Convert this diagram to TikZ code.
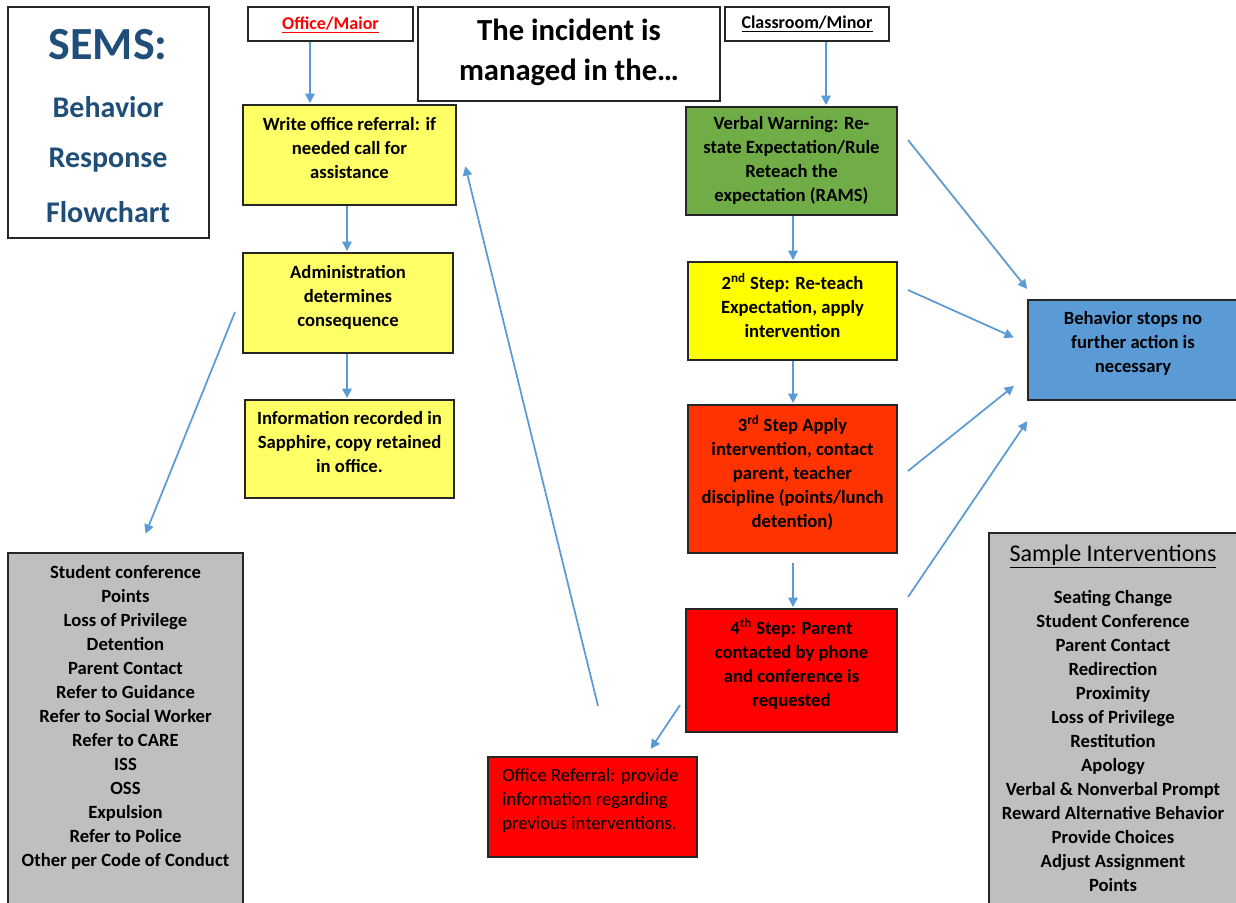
\documentclass[tikz,border=0pt]{standalone}
\usepackage{fontspec}
\setmainfont{Carlito}
\usetikzlibrary{arrows.meta,calc}
\definecolor{arrblue}{RGB}{91,155,213}
\definecolor{semsblue}{RGB}{31,78,121}
\definecolor{ylight}{RGB}{255,255,102}
\definecolor{ybright}{RGB}{255,255,0}
\definecolor{vgreen}{RGB}{112,173,71}
\definecolor{orred}{RGB}{255,51,0}
\definecolor{pured}{RGB}{255,0,0}
\definecolor{stopblue}{RGB}{91,155,213}
\definecolor{lgrey}{RGB}{191,191,191}
\tikzset{
  box/.style={draw=black!85, line width=0.9pt, inner sep=0pt},
  txt/.style={align=center, inner sep=0pt, font=\bfseries\fontsize{14}{18}\selectfont},
  arr/.style={draw=arrblue, line width=1.3pt, -{Triangle[length=7pt,width=7pt]}, shorten >=1pt}
}
\begin{document}
\begin{tikzpicture}[x=0.75pt,y=-0.75pt]
\useasboundingbox (0,0) rectangle (1236,903);
\fill[white] (0,0) rectangle (1236,903);
\clip (0,0) rectangle (1236,903);

% title box
\node[box, minimum width=150.75pt, minimum height=173.25pt] (sems) at (108.5,122.5) {};
\node[inner sep=0pt, text=semsblue, font=\bfseries\fontsize{34.5}{40}\selectfont] (semst) at (108,45) {SEMS:};
\node[inner sep=0pt, text=semsblue, font=\bfseries\fontsize{22.5}{27}\selectfont] (semsb) at (108,107) {Behavior};
\node[inner sep=0pt, text=semsblue, font=\bfseries\fontsize{22.5}{27}\selectfont] (semsr) at (108,160) {Response};
\node[inner sep=0pt, text=semsblue, font=\bfseries\fontsize{22.5}{27}\selectfont] (semsf) at (108,212) {Flowchart};

% header boxes
\node[box, minimum width=123.75pt, minimum height=25.5pt] (office) at (330.5,24) {};
\node[inner sep=0pt, text=pured, font=\bfseries\fontsize{13.5}{16}\selectfont] (officet) at (330.5,25) {\underline{Office/Maior}};
\node[box, minimum width=226.5pt, minimum height=70.5pt] (incident) at (569,54) {};
\node[txt, font=\bfseries\fontsize{23}{30}\selectfont] (incidentt) at (569,52) {The incident is\\managed in the…};
\node[box, minimum width=123pt, minimum height=25.5pt] (classroom) at (807,24) {};
\node[inner sep=0pt, font=\bfseries\fontsize{13.5}{16}\selectfont] (classroomt) at (807,24) {\underline{Classroom/Minor}};

% office path
\node[box, fill=ylight, minimum width=159.75pt, minimum height=75pt] (write) at (349.5,155) {};
\node[txt] (writet) at (349.5,148) {Write office referral: if\\needed call for\\assistance};
\node[box, fill=ylight, minimum width=157.5pt, minimum height=75pt] (admin) at (348,303) {};
\node[txt] (admint) at (348,297) {Administration\\determines\\consequence};
\node[box, fill=ylight, minimum width=156.75pt, minimum height=73.5pt] (info) at (349.5,449) {};
\node[txt] (infot) at (349.5,442) {Information recorded in\\Sapphire, copy retained\\in office.};

% classroom path
\node[box, fill=vgreen, minimum width=158.25pt, minimum height=81pt] (verbal) at (791.5,161) {};
\node[txt] (verbalt) at (791.5,160.5) {Verbal Warning: Re-\\state Expectation/Rule\\Reteach the\\expectation (RAMS)};
\node[box, fill=ybright, minimum width=156.75pt, minimum height=73.5pt] (step2) at (792.5,311) {};
\node[txt] (step2t) at (792.5,305) {2\textsuperscript{nd} Step: Re-teach\\Expectation, apply\\intervention};
\node[box, fill=orred, minimum width=156.75pt, minimum height=111pt] (step3) at (792.5,479) {};
\node[txt] (step3t) at (792.5,472.5) {3\textsuperscript{rd} Step Apply\\intervention, contact\\parent, teacher\\discipline (points/lunch\\detention)};
\node[box, fill=pured, minimum width=158.25pt, minimum height=92.25pt] (step4) at (791.5,670.5) {};
\node[txt] (step4t) at (791.5,664) {4\textsuperscript{th} Step: Parent\\contacted by phone\\and conference is\\requested};
\node[box, fill=pured, minimum width=156.75pt, minimum height=75pt] (oref) at (592.5,807) {};
\node[txt, align=left, anchor=west, font=\fontsize{14}{18}\selectfont] (oreft) at (502,800.5) {Office Referral: provide\\information regarding\\previous interventions.};
\node[box, fill=stopblue, minimum width=159pt, minimum height=75pt] (stops) at (1134,350) {};
\node[txt] (stopst) at (1133,343) {Behavior stops no\\further action is\\necessary};

% grey lists
\node[box, fill=lgrey, minimum width=176.25pt, minimum height=267.75pt] (lgray) at (125.5,731.5) {};
\node[txt] (lgrayt) at (125.5,717) {Student conference\\Points\\Loss of Privilege\\Detention\\Parent Contact\\Refer to Guidance\\Refer to Social Worker\\Refer to CARE\\ISS\\OSS\\Expulsion\\Refer to Police\\Other per Code of Conduct};
\node[box, fill=lgrey, minimum width=188.25pt, minimum height=282.75pt] (rgray) at (1114.5,721.5) {};
\node[inner sep=0pt, font=\fontsize{18}{22}\selectfont] (rgraytitle) at (1113,556) {\underline{Sample Interventions}};
\node[txt] (rgrayt) at (1113,741) {Seating Change\\Student Conference\\Parent Contact\\Redirection\\Proximity\\Loss of Privilege\\Restitution\\Apology\\Verbal \& Nonverbal Prompt\\Reward Alternative Behavior\\Provide Choices\\Adjust Assignment\\Points};

% vertical connectors
\coordinate (x310) at (310,0);
\coordinate (x347) at (347,0);
\coordinate (x826) at (826,0);
\coordinate (x793) at (793,0);
\draw[arr] (office.south -| x310) -- (write.north -| x310);
\draw[arr] (write.south -| x347) -- (admin.north -| x347);
\draw[arr] (admin.south -| x347) -- (info.north -| x347);
\draw[arr] (classroom.south -| x826) -- (verbal.north -| x826);
\draw[arr] (verbal.south -| x793) -- (step2.north -| x793);
\draw[arr] (step2.south -| x793) -- (step3.north -| x793);
\coordinate (s3s) at (793,563);
\draw[arr] (s3s) -- (step4.north -| x793);

% diagonal connectors to "Behavior stops"
\coordinate (v1) at (908,140);  \coordinate (v1e) at (1028,290);
\coordinate (v2) at (908,290);  \coordinate (v2e) at (1015,338);
\coordinate (v3) at (908,471);  \coordinate (v3e) at (1015,385);
\coordinate (v4) at (908,597);  \coordinate (v4e) at (1028,420);
\draw[arr] (v1) -- (v1e);
\draw[arr] (v2) -- (v2e);
\draw[arr] (v3) -- (v3e);
\draw[arr] (v4) -- (v4e);

% other connectors
\coordinate (r1) at (680,705);  \coordinate (r1e) at (650,750);
\draw[arr] (r1) -- (r1e);
\coordinate (r2) at (598,706);  \coordinate (r2e) at (465,165);
\draw[arr] (r2) -- (r2e);
\coordinate (r3) at (235,312);  \coordinate (r3e) at (145,535);
\draw[arr] (r3) -- (r3e);
\end{tikzpicture}
\end{document}
